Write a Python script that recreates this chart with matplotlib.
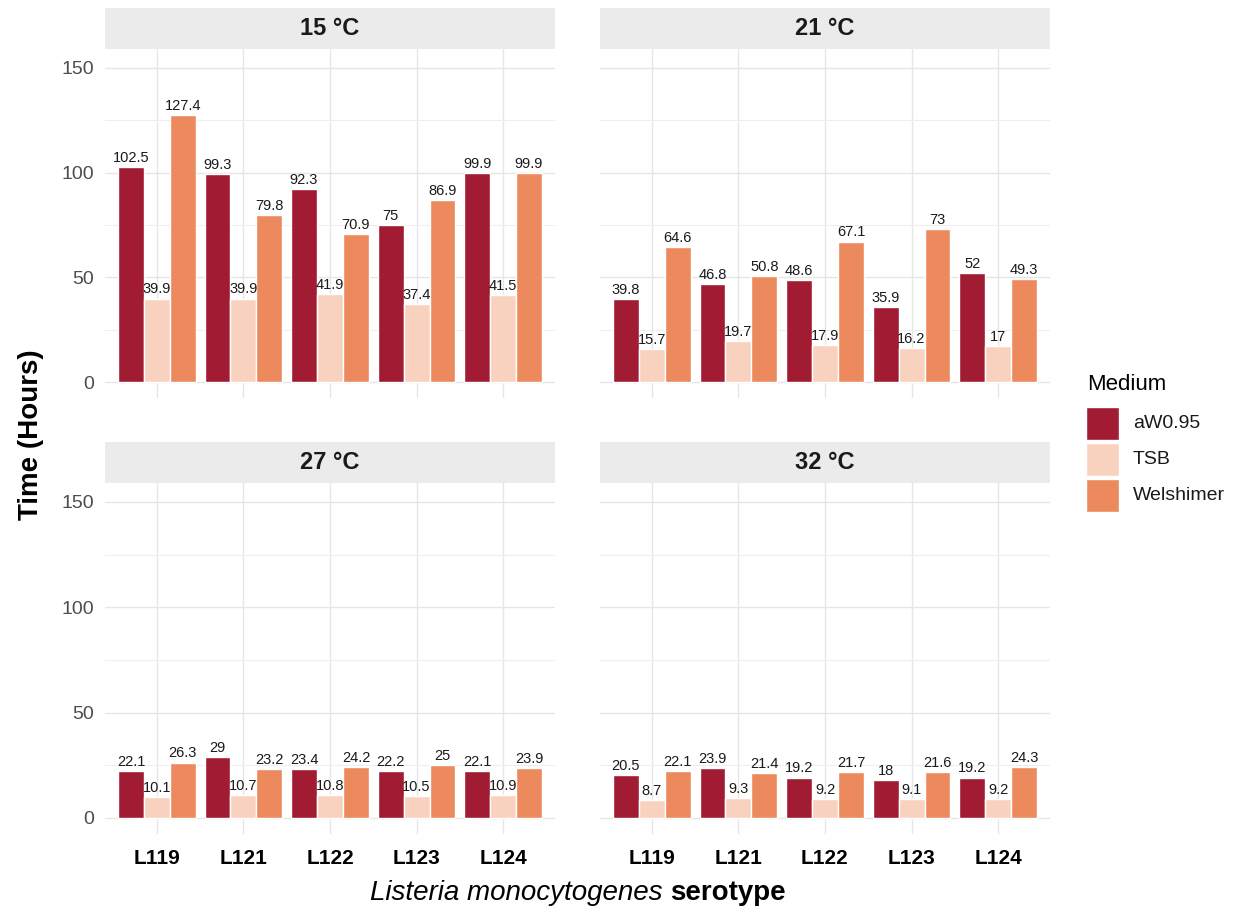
import matplotlib
matplotlib.use("Agg")
import matplotlib.pyplot as plt
from matplotlib.patches import Rectangle
import numpy as np

plt.rcParams['font.family'] = ['Liberation Sans', 'DejaVu Sans']

serotypes = ["L119", "L121", "L122", "L123", "L124"]
media = ["aW0.95", "TSB", "Welshimer"]
colors = ["#A11B33", "#F9D2BF", "#EC8A5E"]
temps = ["15 °C", "21 °C", "27 °C", "32 °C"]

aw_15 = [102.5, 99.3, 92.3, 75, 99.9]
tsb_15 = [39.9, 39.9, 41.9, 37.4, 41.5]
wel_15 = [127.4, 79.8, 70.9, 86.9, 99.9]

aw_21 = [39.8, 46.8, 48.6, 35.9, 52]
tsb_21 = [15.7, 19.7, 17.9, 16.2, 17]
wel_21 = [64.6, 50.8, 67.1, 73, 49.3]

aw_27 = [22.1, 29, 23.4, 22.2, 22.1]
tsb_27 = [10.1, 10.7, 10.8, 10.5, 10.9]
wel_27 = [26.3, 23.2, 24.2, 25, 23.9]

aw_32 = [20.5, 23.9, 19.2, 18, 19.2]
tsb_32 = [8.7, 9.3, 9.2, 9.1, 9.2]
wel_32 = [22.1, 21.4, 21.7, 21.6, 24.3]

panel_data = [
    [aw_15, tsb_15, wel_15],
    [aw_21, tsb_21, wel_21],
    [aw_27, tsb_27, wel_27],
    [aw_32, tsb_32, wel_32],
]
y_ticks = [0, 50, 100, 150]
y_minor = [25, 75, 125]

W, H = 1238, 919
fig = plt.figure(figsize=(W / 100, H / 100), dpi=100)

def ax_rect(l, r, t, b):
    return [l / W, 1 - b / H, (r - l) / W, (b - t) / H]

cols = [(105, 555), (600, 1050)]
rows = [(48.7, 398), (482.6, 834)]
strip_h = 41

x = np.arange(1, len(serotypes) + 1)
bw = 0.3

for i, (temp, series) in enumerate(zip(temps, panel_data)):
    r, c = divmod(i, 2)
    l, rr = cols[c]
    t, b = rows[r]
    ax = fig.add_axes(ax_rect(l, rr, t, b))
    ax.set_xlim(0.4, 5.6)
    ax.set_ylim(-7.6, 159.2)
    for s in ax.spines.values():
        s.set_visible(False)
    ax.set_yticks(y_ticks)
    ax.set_yticks(y_minor, minor=True)
    ax.set_xticks(x)
    ax.grid(True, which='major', color='#E6E6E6', linewidth=1.0)
    ax.grid(True, which='minor', axis='y', color='#EEEEEE', linewidth=0.8)
    ax.set_axisbelow(True)
    ax.tick_params(length=0, which='both')
    if c == 0:
        ax.set_yticklabels([str(v) for v in y_ticks], fontsize=14, color='#4D4D4D')
        ax.tick_params(axis='y', pad=8)
    else:
        ax.set_yticklabels([])
    if r == 1:
        ax.set_xticklabels(serotypes, fontsize=15, fontweight='bold', color='black')
        ax.tick_params(axis='x', pad=11)
    else:
        ax.set_xticklabels([])
    for j, (vals, col) in enumerate(zip(series, colors)):
        pos = x + (j - 1) * bw
        ax.bar(pos, vals, width=bw, color=col, edgecolor='white', linewidth=1.0)
        for p, v in zip(pos, vals):
            ax.annotate(f"{v:g}", (p, v), xytext=(0, 1.5), textcoords='offset points',
                        ha='center', va='bottom', fontsize=10.5, color='#1A1A1A')
    # strip
    sax = fig.add_axes(ax_rect(l, rr, t - strip_h, t))
    sax.set_xlim(0, 1)
    sax.set_ylim(0, 1)
    sax.axis('off')
    sax.add_patch(Rectangle((0, 0), 1, 1, facecolor='#EBEBEB', edgecolor='none'))
    sax.text(0.5, 0.5, temp, ha='center', va='center', fontsize=17,
             fontweight='bold', color='#1A1A1A')

# y title
fig.text(31 / W, 1 - 435 / H, "Time (Hours)", rotation=90, ha='center', va='center',
         fontsize=20, fontweight='bold', color='black')

# x title, mixed style
fig.canvas.draw()
renderer = fig.canvas.get_renderer()
t1 = fig.text(0, 1 - 893 / H, "Listeria monocytogenes ", style='italic', fontsize=20,
              ha='left', va='center', color='black')
t2 = fig.text(0, 1 - 893 / H, "serotype", fontweight='bold', fontsize=20,
              ha='left', va='center', color='black')
w1 = t1.get_window_extent(renderer).width
w2 = t2.get_window_extent(renderer).width
cx = (105 + 1050) / 2
start = cx - (w1 + w2) / 2
t1.set_x(start / W)
t2.set_x((start + w1) / W)

# legend
fig.text(1087 / W, 1 - 384 / H, "Medium", fontsize=16, ha='left', va='center', color='black')
key_tops = [407, 443, 479]
for kt, col, name in zip(key_tops, colors, media):
    fig.patches.append(Rectangle((1086 / W, 1 - (kt + 33) / H), 33 / W, 33 / H,
                                 facecolor=col, edgecolor='white', linewidth=1,
                                 transform=fig.transFigure, figure=fig))
    fig.text(1133 / W, 1 - (kt + 16.5) / H, name, fontsize=14, ha='left', va='center',
             color='#1A1A1A')

fig.savefig("out.png", dpi=100, facecolor='white')
